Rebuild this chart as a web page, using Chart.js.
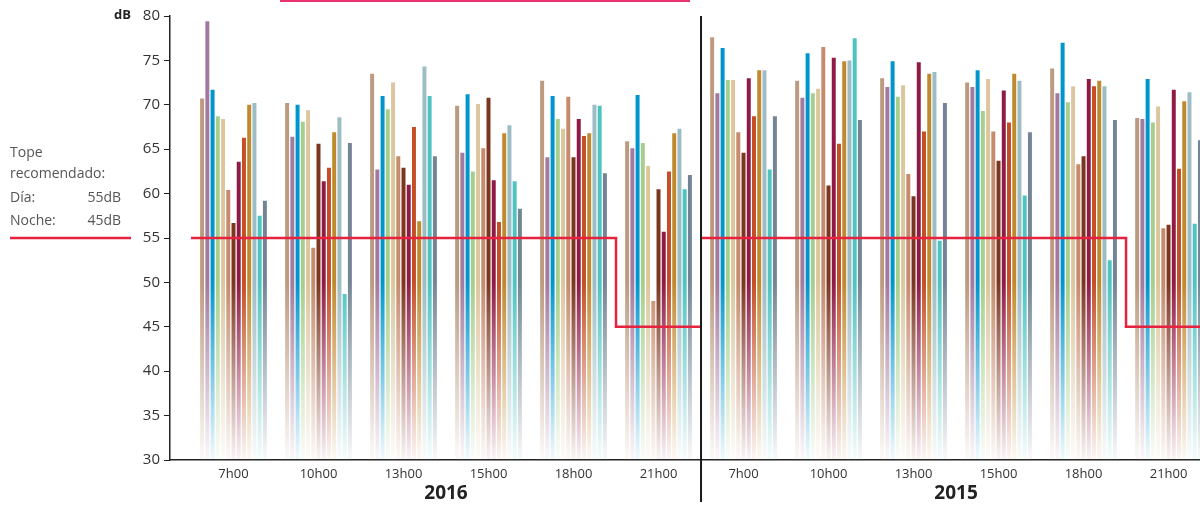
<!DOCTYPE html>
<html>
<head>
<meta charset="utf-8">
<script src="https://cdn.jsdelivr.net/npm/chart.js@4/dist/chart.umd.min.js"></script>
<style>
  html, body { margin: 0; padding: 0; background: #fff; overflow: hidden; }
  #wrap { position: relative; width: 1200px; height: 506px; }
</style>
</head>
<body>
<div id="wrap"><canvas id="noiseChart"></canvas></div>
<script>
// Horas de medición, repetidas para cada año
const hours = ['7h00', '10h00', '13h00', '15h00', '18h00', '21h00'];
const years = ['2016', '2015'];
const categories = hours.concat(hours);

// Niveles (dB) por punto de medición: 6 horas de 2016 y luego 6 horas de 2015
const pt01 = [70.7, 70.2, 73.5, 69.9, 72.7, 65.9, 77.6, 72.7, 73.0, 72.5, 74.1, 68.5];
const pt02 = [79.4, 66.4, 62.7, 64.6, 64.1, 65.1, 71.3, 70.8, 72.0, 72.0, 71.3, 68.4];
const pt03 = [71.7, 70.0, 71.0, 71.2, 71.0, 71.1, 76.4, 75.8, 74.9, 73.9, 77.0, 72.9];
const pt04 = [68.7, 68.1, 69.5, 62.5, 68.4, 65.7, 72.8, 71.3, 70.9, 69.3, 70.3, 68.0];
const pt05 = [68.4, 69.4, 72.5, 70.1, 67.3, 63.1, 72.8, 71.8, 72.2, 72.9, 72.1, 69.8];
const pt06 = [60.4, 53.9, 64.2, 65.1, 70.9, 47.9, 66.9, 76.5, 62.2, 67.0, 63.3, 56.1];
const pt07 = [56.7, 65.6, 62.9, 70.8, 64.1, 60.5, 64.6, 60.9, 59.7, 63.7, 64.2, 56.5];
const pt08 = [63.6, 61.4, 61.0, 61.5, 68.4, 55.7, 73.0, 75.3, 74.8, 71.6, 72.9, 71.7];
const pt09 = [66.3, 62.9, 67.5, 56.8, 66.5, 62.5, 68.7, 65.6, 67.0, 68.0, 72.1, 62.8];
const pt10 = [70.0, 66.9, 56.9, 66.8, 66.8, 66.8, 73.9, 74.9, 73.5, 73.5, 72.7, 70.4];
const pt11 = [70.2, 68.6, 74.3, 67.7, 70.0, 67.3, 73.9, 75.0, 73.7, 72.7, 72.1, 71.4];
const pt12 = [57.5, 48.7, 71.0, 61.4, 69.9, 60.5, 62.7, 77.5, 54.7, 59.8, 52.5, 56.6];
const pt13 = [59.2, 65.7, 64.2, 58.3, 62.3, 62.1, 68.7, 68.3, 70.2, 66.9, 68.3, 66.0];

const points = [pt01, pt02, pt03, pt04, pt05, pt06, pt07, pt08, pt09, pt10, pt11, pt12, pt13];
const colors = ['#bc9a80', '#a37a9f', '#0096cd', '#a5cf8a', '#dcc69e', '#c68a6c', '#7b3620',
                '#8f1a46', '#c44f26', '#c1892e', '#9dbdc4', '#4dc3c2', '#738595'];

// Tope recomendado
const limitDay = 55;
const limitNight = 45;
const yTicks = [30, 35, 40, 45, 50, 55, 60, 65, 70, 75, 80];

// Barras que se desvanecen hacia el eje
function fade(color) {
    return function(c) {
        const chart = c.chart;
        if (!chart.chartArea) return color;
        const y = chart.scales.y;
        const g = chart.ctx.createLinearGradient(0, y.getPixelForValue(50), 0, chart.chartArea.bottom);
        g.addColorStop(0, color);
        g.addColorStop(1, color + '0c');
        return g;
    };
}

const barSets = points.map((vals, i) => ({
    type: 'bar',
    label: 'Punto ' + (i + 1),
    data: vals.map((v, j) => ({ x: j, y: v })),
    backgroundColor: fade(colors[i]),
    borderWidth: 0,
    categoryPercentage: 0.8,
    barPercentage: 0.76,
    order: 1
}));

// línea del tope: día hasta las 18h00, noche a las 21h00, para cada año
const limitData = [];
years.forEach((yr, k) => {
    const s = k * hours.length - 0.5;
    const n = s + hours.length - 1;
    limitData.push({ x: s, y: limitDay }, { x: n, y: limitDay }, { x: n, y: limitNight },
                   { x: Math.min(n + 1, 11.37), y: limitNight }, { x: n + 1, y: null });
});

const extras = {
    id: 'extras',
    afterDraw(chart) {
        const { ctx, scales: { x, y } } = chart;
        const area = chart.chartArea;
        ctx.save();
        // línea de la cabecera
        ctx.fillStyle = '#e8336e';
        ctx.fillRect(280, 0, 410, 2);
        // división entre años
        const xd = x.getPixelForValue(hours.length - 0.5);
        ctx.strokeStyle = '#1a1a1a';
        ctx.lineWidth = 2;
        ctx.beginPath();
        ctx.moveTo(xd, area.top);
        ctx.lineTo(xd, 502);
        ctx.stroke();
        // años
        ctx.fillStyle = '#222';
        ctx.font = 'bold 19px "Open Sans", sans-serif';
        ctx.textAlign = 'center';
        ctx.textBaseline = 'middle';
        years.forEach((yr, k) => {
            ctx.fillText(yr, x.getPixelForValue(k * hours.length + 2.5), 494);
        });
        // unidad
        ctx.font = 'bold 13px "Open Sans", sans-serif';
        ctx.textAlign = 'right';
        ctx.fillText('dB', 131, y.getPixelForValue(80) - 1);
        // tope recomendado
        const yl = y.getPixelForValue(limitDay);
        ctx.strokeStyle = '#e6223f';
        ctx.lineWidth = 2.5;
        ctx.beginPath();
        ctx.moveTo(10, yl);
        ctx.lineTo(131, yl);
        ctx.stroke();
        ctx.fillStyle = '#555';
        ctx.font = '14px "Open Sans", sans-serif';
        ctx.textAlign = 'left';
        ctx.fillText('Tope', 10, 153);
        ctx.fillText('recomendado:', 10, 174);
        ctx.fillText('Día:', 10, 198);
        ctx.fillText('Noche:', 10, 221);
        ctx.textAlign = 'right';
        ctx.fillText(limitDay + 'dB', 121, 198);
        ctx.fillText(limitNight + 'dB', 121, 221);
        ctx.restore();
    }
};

const chart = new Chart(document.getElementById('noiseChart'), {
    type: 'bar',
    data: {
        datasets: barSets.concat([{
            type: 'line',
            label: 'Tope recomendado',
            data: limitData,
            borderColor: '#e6223f',
            borderWidth: 2.5,
            pointRadius: 0,
            tension: 0,
            spanGaps: false,
            order: 0
        }])
    },
    options: {
        responsive: true,
        maintainAspectRatio: false,
        animation: false,
        layout: { padding: { top: 16, right: 0, left: 0, bottom: 0 } },
        plugins: { legend: { display: false }, tooltip: { enabled: false } },
        scales: {
            x: {
                type: 'linear',
                offset: false,
                min: -0.747,
                max: 11.37,
                afterBuildTicks: (s) => { s.ticks = categories.map((c, i) => ({ value: i })); },
                afterFit: (s) => { s.height = 46; },
                ticks: {
                    callback: (v) => categories[v],
                    color: '#333',
                    font: { family: '"Open Sans", sans-serif', size: 13 },
                    padding: 6,
                    autoSkip: false,
                    maxRotation: 0
                },
                grid: { display: true, offset: false, drawOnChartArea: false, drawTicks: false },
                border: { color: '#222', width: 1.5 }
            },
            y: {
                min: 30,
                max: 80,
                afterBuildTicks: (s) => { s.ticks = yTicks.map(v => ({ value: v })); },
                afterFit: (s) => { s.width = 170; },
                ticks: {
                    color: '#333',
                    font: { family: '"Open Sans", sans-serif', size: 15 },
                    padding: 4
                },
                grid: { drawOnChartArea: false, drawTicks: true, tickLength: 6, color: '#222' },
                border: { color: '#222', width: 1.5 }
            }
        }
    },
    plugins: [extras]
});
</script>
</body>
</html>
